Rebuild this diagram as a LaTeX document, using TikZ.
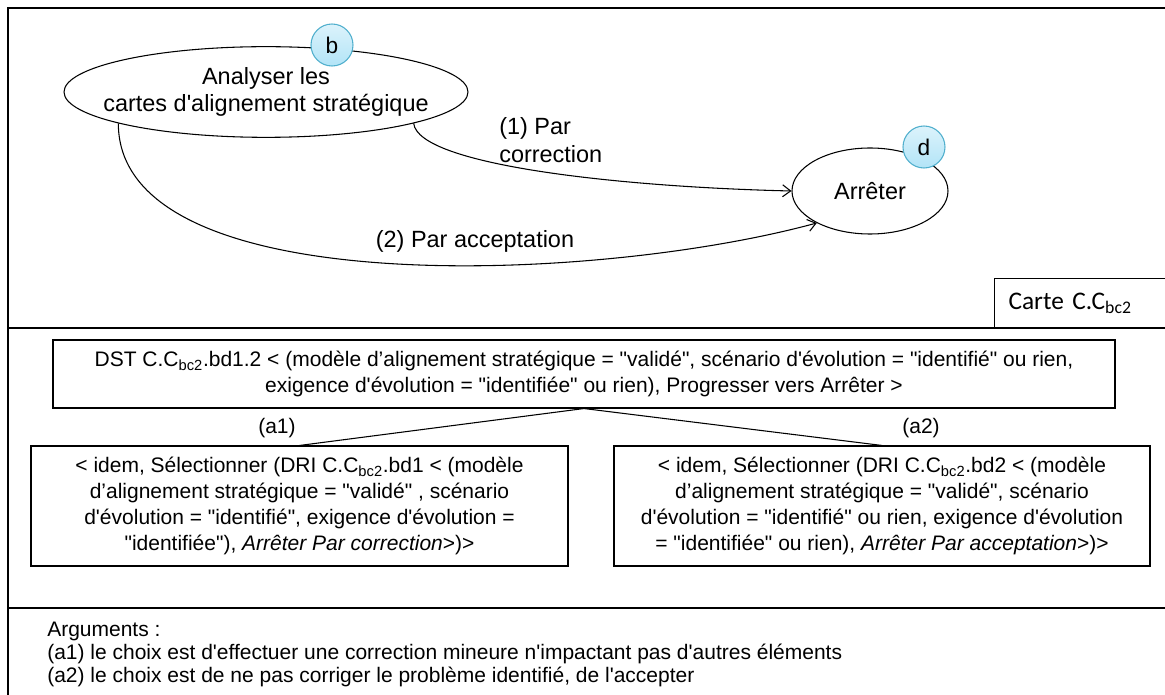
\documentclass[tikz,border=0pt]{standalone}
\usepackage{fontspec}
\setmainfont{Liberation Sans}[Ligatures=TeXOff]
\newfontfamily\cartefont{Carlito}
\usepackage{tikz}
\usetikzlibrary{arrows.meta, shapes.geometric}
\definecolor{cblue}    {RGB}{178,228,247}
\definecolor{cblueline}{RGB}{80,175,205}
\newcommand{\ccbc}{C.C\textsubscript{bc2}}
\tikzset{
  frame/.style={line width=1.1pt},
  goal/.style={ellipse, draw, line width=0.8pt, inner sep=0pt, align=center,
               font=\fontsize{17.6}{20}\selectfont},
  tag/.style={circle, draw=cblueline, line width=0.8pt,
              top color=cblue!45, bottom color=cblue,
              minimum size=31.5pt, inner sep=0pt,
              font=\fontsize{17}{17}\selectfont},
  strat/.style={-{Straight Barb[length=6pt,width=9pt]}, line width=0.8pt},
  lbl/.style={inner sep=0pt, align=left, font=\fontsize{17.6}{21}\selectfont},
  bx/.style={rectangle, draw, line width=0.8pt, inner sep=0pt, align=center,
             font=\fontsize{15.75}{19.5}\selectfont},
  txt/.style={inner sep=0pt, font=\fontsize{15.75}{17.25}\selectfont},
}

\begin{document}
\begin{tikzpicture}[x=0.75pt, y=-0.75pt]
  \useasboundingbox (0,0) rectangle (1165,695);

  % ── Frame ──────────────────────────────────────────────────────────────────
  \draw[frame] (1165,8) -- (8,8) -- (8,695);
  \draw[frame] (8,328) -- (1165,328);
  \draw[frame] (8,608) -- (1165,608);

  % ── Map ────────────────────────────────────────────────────────────────────
  \node[goal, inner xsep=-40pt, minimum width=303pt, minimum height=68pt]
      at (266,92) (ana) {Analyser les\\cartes d'alignement stratégique};
  \node[tag] at (332,45) (tagb) {b};
  \node[goal, minimum width=117pt, minimum height=64.5pt]
      at (870,191) (stop) {Arrêter};
  \node[tag] at (924,147) (tagd) {d};

  \draw[strat] (ana.-12) .. controls +(5,42) and +(-170,-4) .. (stop.west);
  \draw[strat] (ana.-168) .. controls +(0,180) and +(-220,60) .. (stop.211);
  \node[lbl, anchor=west] at (499,140) (lcorr) {(1) Par\\correction};
  \node[lbl] at (475,241) (lacc) {(2) Par acceptation};

  \node[draw, line width=0.8pt, anchor=north west, text width=107.25pt,
        minimum height=37.5pt, inner xsep=10.5pt, align=left,
        font=\cartefont\fontsize{19}{19}\selectfont]
      at (994,278) (carte) {Carte \ccbc};

  % ── Strategies ─────────────────────────────────────────────────────────────
  \node[bx, minimum width=796.5pt, minimum height=51pt] at (584,374) (dst)
      {DST \ccbc.bd1.2 < (modèle d’alignement stratégique  = "validé",
       scénario d'évolution = "identifié" ou rien,\\
       exigence d'évolution = "identifiée"  ou rien),  Progresser vers Arrêter >};
  \node[bx, minimum width=402.75pt, minimum height=90pt] at (299.5,506) (sela)
      {< idem, Sélectionner (DRI \ccbc.bd1 < (modèle\\
       d’alignement stratégique  = "validé" , scénario\\
       d'évolution = "identifié", exigence d'évolution =\\
       "identifiée"), \textit{Arrêter Par correction}>)>};
  \node[bx, minimum width=402pt, minimum height=90pt] at (882,506) (selb)
      {< idem, Sélectionner (DRI \ccbc.bd2 < (modèle\\
       d’alignement stratégique  = "validé", scénario\\
       d'évolution = "identifié" ou rien, exigence d'évolution\\
       = "identifiée"  ou rien), \textit{Arrêter  Par acceptation}>)>};

  \draw[line width=0.8pt] (dst.south) -- (sela.north);
  \draw[line width=0.8pt] (dst.south) -- (selb.north);
  \node[txt] at (277,428) (la1) {(a1)};
  \node[txt] at (921,428) (la2) {(a2)};

  % ── Arguments ──────────────────────────────────────────────────────────────
  \node[txt, anchor=north west, align=left] at (47,622) (args)
      {Arguments :\\
       (a1) le choix est d'effectuer une correction mineure n'impactant pas d'autres éléments\\
       (a2) le choix est de ne pas corriger le problème identifié, de l'accepter};
\end{tikzpicture}
\end{document}
